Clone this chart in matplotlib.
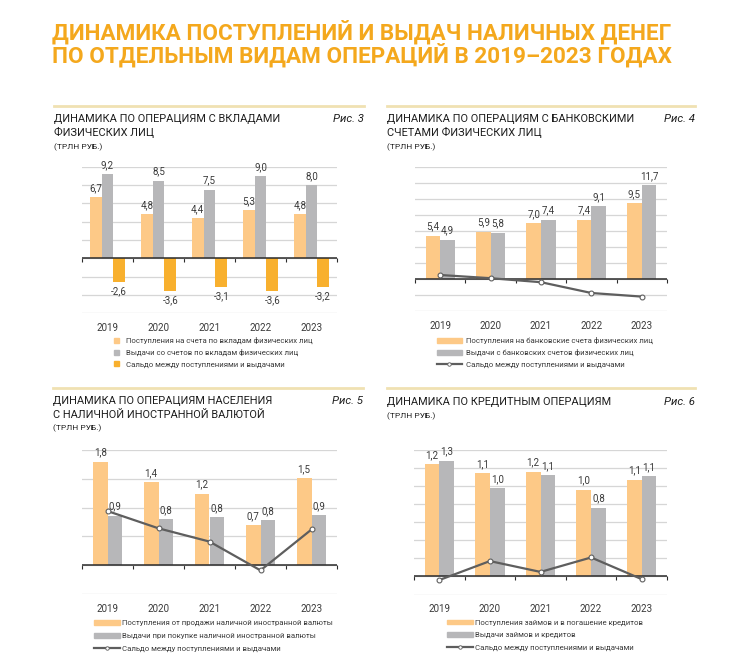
import numpy as np
import matplotlib.pyplot as plt
import matplotlib.lines as mlines
import matplotlib.patches as mpatches

plt.rcParams['font.family'] = ['Roboto', 'DejaVu Sans']

years = ["2019", "2020", "2021", "2022", "2023"]

# Рис. 3 - вклады физических лиц
dep_in = [6.7, 4.8, 4.4, 5.3, 4.8]
dep_out = [9.2, 8.5, 7.5, 9.0, 8.0]
dep_saldo = [-2.6, -3.6, -3.1, -3.6, -3.2]

# Рис. 4 - банковские счета физических лиц
acc_in = [5.4, 5.9, 7.0, 7.4, 9.5]
acc_out = [4.9, 5.8, 7.4, 9.1, 11.7]
acc_saldo = [0.5, 0.1, -0.4, -1.75, -2.2]

# Рис. 5 - наличная иностранная валюта
fx_in = [1.80, 1.44, 1.24, 0.69, 1.51]
fx_out = [0.86, 0.80, 0.83, 0.78, 0.87]
fx_saldo = [0.94, 0.64, 0.41, -0.09, 0.62]

# Рис. 6 - кредитные операции
cr_in = [1.24, 1.14, 1.16, 0.96, 1.07]
cr_out = [1.28, 0.98, 1.12, 0.76, 1.11]
cr_saldo = [-0.04, 0.17, 0.05, 0.21, -0.03]

ORANGE = "#FDC987"
GREY = "#B7B7B9"
SALDO = "#F8B02E"
LINE = "#5E5E5E"
GRID = "#D6D6D6"
AXIS = "#2B2B2B"
TEXT = "#3A3A3A"
TITLE = "#F4A81D"
RULE = "#F0E1B2"

W, H = 753, 666


def fx(px):
    return px / W


def fy(py):
    return 1 - py / H


def fmt(v):
    return f"{v:.1f}".replace(".", ",")


def setup_axes(ax, ymin, ymax, step):
    ax.set_xlim(-0.5, 4.5)
    ax.set_ylim(ymin, ymax)
    ax.set_yticks(np.arange(ymin, ymax + step / 2, step))
    ax.grid(axis="y", color=GRID, lw=0.9)
    ax.set_axisbelow(True)
    for s in ax.spines.values():
        s.set_visible(False)
    ax.tick_params(axis="y", left=False, labelleft=False)
    ax.set_xticks(range(len(years)))
    ax.set_xticklabels(years)
    ax.tick_params(axis="x", length=0, pad=7, labelsize=7, colors=TEXT)
    ax.axhline(0, color=AXIS, lw=1.1, zorder=4)
    sec = ax.secondary_xaxis((0 - ymin) / (ymax - ymin))
    sec.set_xticks(np.arange(-0.5, len(years), 1.0))
    sec.tick_params(length=3, width=0.8, color=AXIS, labelbottom=False)
    sec.spines["bottom"].set_visible(False)


def header(x_left, x_right, y_rule, lines, line_ys, unit_y, fig_no):
    fig.add_artist(mlines.Line2D([fx(x_left), fx(x_right)], [fy(y_rule), fy(y_rule)],
                                 color=RULE, lw=2))
    for txt, y in zip(lines, line_ys):
        fig.text(fx(x_left), fy(y), txt, ha="left", va="center",
                 fontsize=7.9, color="#1E1E1E")
    fig.text(fx(x_left), fy(unit_y), "(ТРЛН РУБ.)", ha="left", va="center",
             fontsize=6, color="#1E1E1E")
    fig.text(fx(x_right), fy(line_ys[0]), fig_no, ha="right", va="center",
             fontsize=8.2, style="italic", color="#1E1E1E")


def line_handle():
    return mlines.Line2D([], [], color=LINE, lw=1.6, marker="o", ms=2.5,
                         mfc="white", mec=LINE, mew=0.6)


def add_legend(ax, handles, labels, left, top, hl, pad, spacing):
    leg = ax.legend(handles, labels, loc="upper left",
                    bbox_to_anchor=(fx(left), fy(top)), bbox_transform=fig.transFigure,
                    frameon=False, fontsize=5.6, handlelength=hl, handleheight=0.6,
                    handletextpad=pad, labelspacing=spacing, borderpad=0, borderaxespad=0)
    for t in leg.get_texts():
        t.set_color(TEXT)


fig = plt.figure(figsize=(W / 100, H / 100), dpi=100)

fig.text(fx(52), fy(32), "ДИНАМИКА ПОСТУПЛЕНИЙ И ВЫДАЧ НАЛИЧНЫХ ДЕНЕГ",
         fontsize=16.2, fontweight="semibold", color=TITLE, ha="left", va="center")
fig.text(fx(52), fy(55), "ПО ОТДЕЛЬНЫМ ВИДАМ ОПЕРАЦИЙ В 2019–2023 ГОДАХ",
         fontsize=16.2, fontweight="semibold", color=TITLE, ha="left", va="center")

x = np.arange(len(years))
saldo_line = "Сальдо между поступлениями и выдачами"

# ---- Рис. 3
ax1 = fig.add_axes([fx(82), fy(313), fx(337) - fx(82), fy(167) - fy(313)])
setup_axes(ax1, -6, 10, 2)
w = 0.23
b1 = ax1.bar(x - w, dep_in, w, color=ORANGE)
b2 = ax1.bar(x, dep_out, w, color=GREY)
b3 = ax1.bar(x + w, dep_saldo, w, color=SALDO)
for b, vals in ((b1, dep_in), (b2, dep_out), (b3, dep_saldo)):
    ax1.bar_label(b, labels=[fmt(v) for v in vals], padding=3, fontsize=7, color=TEXT)
header(54, 364, 106, ["ДИНАМИКА ПО ОПЕРАЦИЯМ С ВКЛАДАМИ", "ФИЗИЧЕСКИХ ЛИЦ"], [119, 132.5],
       147.5, "Рис. 3")
add_legend(ax1, [mpatches.Patch(color=ORANGE), mpatches.Patch(color=GREY), mpatches.Patch(color=SALDO)],
           ["Поступления на счета по вкладам физических лиц",
            "Выдачи со счетов по вкладам физических лиц", saldo_line],
           114, 337, 0.6, 0.9, 0.65)

# ---- Рис. 4
ax2 = fig.add_axes([fx(415), fy(311), fx(667) - fx(415), fy(167) - fy(311)])
setup_axes(ax2, -4, 14, 2)
w = 0.29
b1 = ax2.bar(x - w / 2, acc_in, w, color=ORANGE)
b2 = ax2.bar(x + w / 2, acc_out, w, color=GREY)
for b, vals in ((b1, acc_in), (b2, acc_out)):
    ax2.bar_label(b, labels=[fmt(v) for v in vals], padding=3, fontsize=7, color=TEXT)
ax2.plot(x, acc_saldo, color=LINE, lw=1.6, marker="o", ms=3.5, mfc="white", mec=LINE, mew=0.8, zorder=5)
header(387, 695, 106, ["ДИНАМИКА ПО ОПЕРАЦИЯМ С БАНКОВСКИМИ", "СЧЕТАМИ ФИЗИЧЕСКИХ ЛИЦ"], [119, 132.5],
       147.5, "Рис. 4")
add_legend(ax2, [mpatches.Patch(color=ORANGE), mpatches.Patch(color=GREY), line_handle()],
           ["Поступления на банковские счета физических лиц",
            "Выдачи с банковских счетов физических лиц", saldo_line],
           437, 337, 3.2, 0.55, 0.65)

# ---- Рис. 5
ax3 = fig.add_axes([fx(82), fy(594), fx(337) - fx(82), fy(450) - fy(594)])
setup_axes(ax3, -0.5, 2.0, 0.5)
b1 = ax3.bar(x - w / 2, fx_in, w, color=ORANGE)
b2 = ax3.bar(x + w / 2, fx_out, w, color=GREY)
for b, vals in ((b1, fx_in), (b2, fx_out)):
    ax3.bar_label(b, labels=[fmt(v) for v in vals], padding=3, fontsize=7, color=TEXT)
ax3.plot(x, fx_saldo, color=LINE, lw=1.6, marker="o", ms=3.5, mfc="white", mec=LINE, mew=0.8, zorder=5)
header(53, 363, 388, ["ДИНАМИКА ПО ОПЕРАЦИЯМ НАСЕЛЕНИЯ", "С НАЛИЧНОЙ ИНОСТРАННОЙ ВАЛЮТОЙ"], [401.5, 414.5],
       428.5, "Рис. 5")
add_legend(ax3, [mpatches.Patch(color=ORANGE), mpatches.Patch(color=GREY), line_handle()],
           ["Поступления от продажи наличной иностранной валюты",
            "Выдачи при покупке наличной иностранной валюты", saldo_line],
           94, 620, 3.4, 0.15, 0.8)

# ---- Рис. 6
ax4 = fig.add_axes([fx(414), fy(594.5), fx(667) - fx(414), fy(450) - fy(594.5)])
setup_axes(ax4, -0.2, 1.4, 0.2)
b1 = ax4.bar(x - w / 2, cr_in, w, color=ORANGE)
b2 = ax4.bar(x + w / 2, cr_out, w, color=GREY)
for b, vals in ((b1, cr_in), (b2, cr_out)):
    ax4.bar_label(b, labels=[fmt(v) for v in vals], padding=3, fontsize=7, color=TEXT)
ax4.plot(x, cr_saldo, color=LINE, lw=1.6, marker="o", ms=3.5, mfc="white", mec=LINE, mew=0.8, zorder=5)
header(387, 695, 388, ["ДИНАМИКА ПО КРЕДИТНЫМ ОПЕРАЦИЯМ"], [402], 416, "Рис. 6")
add_legend(ax4, [mpatches.Patch(color=ORANGE), mpatches.Patch(color=GREY), line_handle()],
           ["Поступления займов и в погашение кредитов",
            "Выдачи займов и кредитов", saldo_line],
           447, 619.5, 3.3, 0.25, 0.8)

fig.savefig("out.png", dpi=100)
